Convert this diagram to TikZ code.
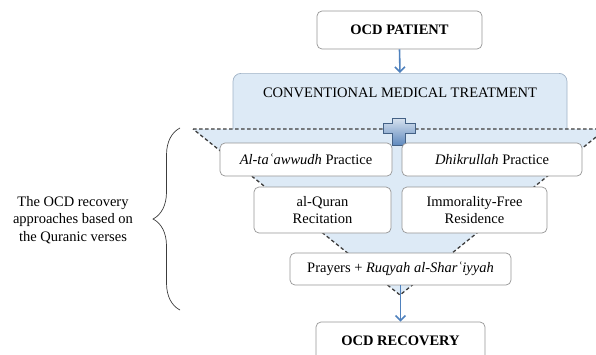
\documentclass[tikz,border=0pt]{standalone}
\usepackage{fontspec}
\setmainfont{Liberation Serif}
\usetikzlibrary{arrows.meta,decorations.pathreplacing}
\definecolor{lblue}{RGB}{221,234,246}
\definecolor{dblue}{RGB}{79,129,189}
\definecolor{pblue}{RGB}{96,138,190}
\definecolor{boxgray}{RGB}{150,150,150}
\definecolor{convgray}{RGB}{160,178,198}
\definecolor{dashgray}{RGB}{60,60,60}
\tikzset{>={Straight Barb[length=5pt,width=10pt]}}
\tikzset{
  ocdbox/.style={draw=boxgray, fill=white, rounded corners=5pt, line width=0.7pt, align=center, inner sep=0pt},
  flowarrow/.style={->, draw=dblue, line width=1.6pt},
  funnelline/.style={draw=dashgray, line width=1.3pt, dash pattern=on 3.5pt off 2.5pt},
}

\begin{document}
\begin{tikzpicture}[x=1pt, y=-1pt, font=\fontsize{14.5}{17.5}\selectfont]
  \useasboundingbox (0,0) rectangle (596,354);
  \clip (0,0) rectangle (596,354);
  % top of the flow
  \node[ocdbox, minimum width=165pt, minimum height=38pt] (pat) at (399.5,30) {\textbf{OCD PATIENT}};
  \node[ocdbox, draw=convgray, fill=lblue, rounded corners=8pt, anchor=north, minimum width=334pt,
        text height=10pt, text depth=25pt, inner ysep=14pt] (conv) at (400,73) {CONVENTIONAL MEDICAL TREATMENT};
  % funnel
  \fill[lblue] (193,129) -- (606,129) -- (400,295) -- cycle;
  \draw[funnelline] (193,129) -- (606,129) -- (400,295) -- cycle;
  \draw[draw=pblue!70!black, top color=pblue!25, bottom color=pblue, line width=0.6pt]
    (392,118) -- (405,118) -- (405,123) -- (415,123) -- (415,133) -- (405,133) -- (405,145)
    -- (392,145) -- (392,133) -- (383,133) -- (383,123) -- (392,123) -- cycle;
  % approaches
  \node[ocdbox, minimum width=172pt, minimum height=33pt] (p1) at (306,159.5) {\textit{Al-taʿawwudh} Practice};
  \node[ocdbox, minimum width=180pt, minimum height=33pt] (p2) at (492,159.5) {\textit{Dhikrullah} Practice};
  \node[ocdbox, minimum width=137pt, minimum height=46pt] (p3) at (322.5,210) {al-Quran\\Recitation};
  \node[ocdbox, minimum width=145pt, minimum height=46pt] (p4) at (474.5,210) {Immorality-Free\\Residence};
  \node[ocdbox, minimum width=221pt, minimum height=32pt] (pr) at (400.5,269) {Prayers + \textit{Ruqyah al-Sharʿiyyah}};
  \node[ocdbox, minimum width=169pt, minimum height=38pt] (rec) at (400.5,341) {\textbf{OCD RECOVERY}};
  \draw[flowarrow] (pat.south) -- (conv.north);
  \draw[flowarrow] (pr.south) -- (rec.north);
  % brace and its label
  \draw[draw=dashgray, line width=0.7pt, decorate, decoration={brace, amplitude=27pt}] (180,310) -- (180,128);
  \node[align=center] (txt) at (73,220) {The OCD recovery\\approaches based on\\the Quranic verses};
\end{tikzpicture}
\end{document}
